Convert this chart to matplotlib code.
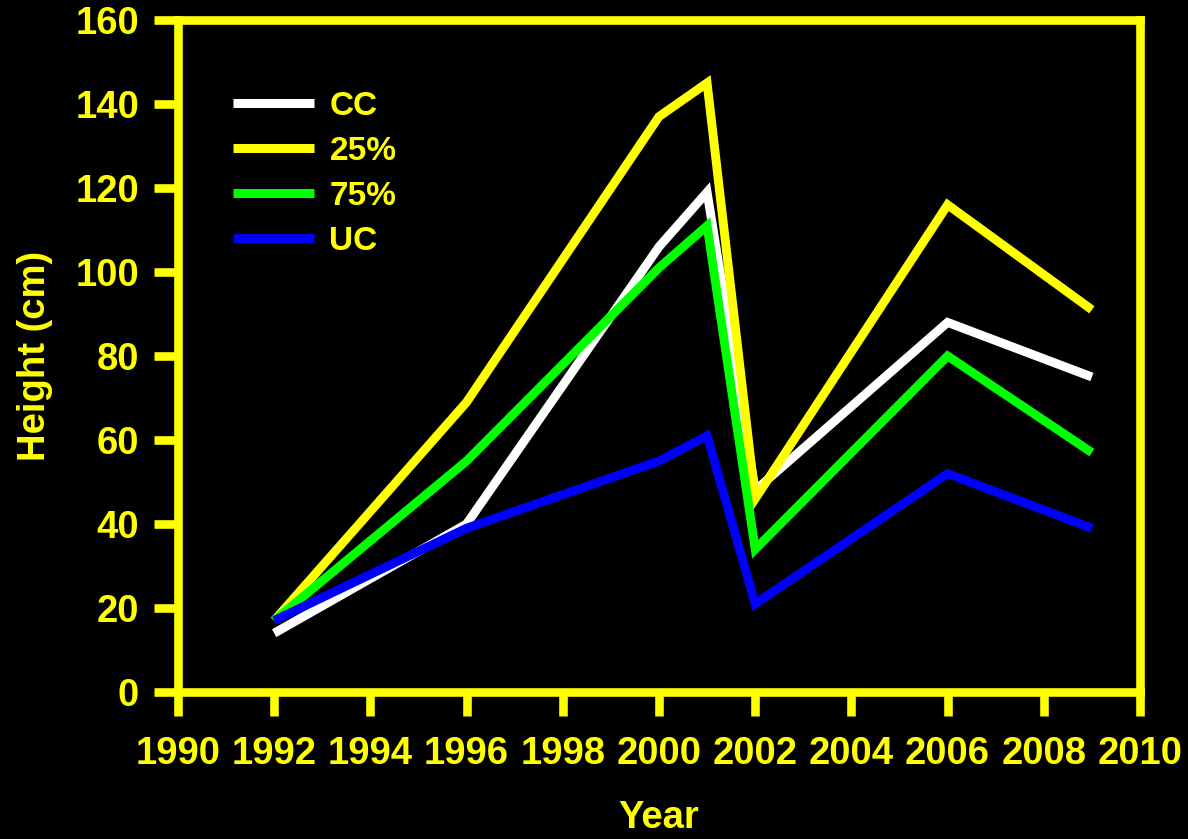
import matplotlib
matplotlib.use("Agg")
import matplotlib.pyplot as plt

# Sampling years and mean seedling height (cm) per treatment
years = [1992, 1996, 2000, 2001, 2002, 2006, 2009]
cc_height = [14, 40, 106, 119, 48, 88, 75]
p25_height = [17, 69, 137, 145, 46, 116, 91]
p75_height = [17, 55, 101, 111, 34, 80, 57]
uc_height = [17, 39, 55, 61, 21, 52, 39]

series_labels = ["CC", "25%", "75%", "UC"]
series_colors = ["#FFFFFF", "#FFFF00", "#00FF00", "#0000FF"]

x_ticks = list(range(1990, 2011, 2))
y_ticks = list(range(0, 161, 20))

FG = "#FFFF00"
plt.rcParams["font.family"] = ["Liberation Sans", "DejaVu Sans"]
plt.rcParams["font.weight"] = "bold"

fig = plt.figure(figsize=(11.88, 8.39), dpi=100, facecolor="black")
ax = fig.add_axes([0.1498, 0.1752, 0.8098, 0.801])
ax.set_facecolor("black")

for vals, lab, col in zip([cc_height, p25_height, p75_height, uc_height],
                          series_labels, series_colors):
    ax.plot(years, vals, color=col, lw=6.4, label=lab,
            solid_joinstyle="miter", solid_capstyle="butt")

ax.set_xlim(1990, 2010)
ax.set_ylim(0, 160)
ax.set_xticks(x_ticks)
ax.set_yticks(y_ticks)

for sp in ax.spines.values():
    sp.set_color(FG)
    sp.set_linewidth(6.2)

ax.tick_params(axis="both", colors=FG, width=6.2, length=17, direction="out",
               labelsize=27.5)
ax.tick_params(axis="x", pad=15)
ax.tick_params(axis="y", pad=11)
for t in ax.get_xticklabels() + ax.get_yticklabels():
    t.set_fontweight("bold")

ax.set_xlabel("Year", color=FG, fontsize=27.5, fontweight="bold", labelpad=20)
ax.set_ylabel("Height (cm)", color=FG, fontsize=27.5, fontweight="bold", labelpad=16)

leg = ax.legend(loc="upper left", bbox_to_anchor=(0.057, 0.895), frameon=False,
                fontsize=24, handlelength=2.45, handletextpad=0.45,
                labelspacing=0.42, borderaxespad=0, borderpad=0)
for txt in leg.get_texts():
    txt.set_color(FG)
    txt.set_fontweight("bold")
for h in leg.legend_handles:
    h.set_linewidth(6.5)

fig.savefig("out.png", dpi=100, facecolor="black")
